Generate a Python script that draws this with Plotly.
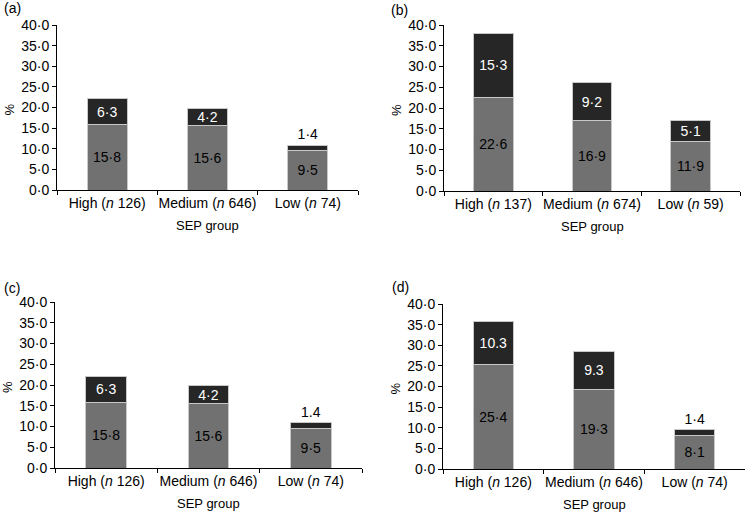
import plotly.graph_objects as go
from plotly.subplots import make_subplots

W, H = 754, 512

# data
groups_a = ["High (<i>n</i> 126)", "Medium (<i>n</i> 646)", "Low (<i>n</i> 74)"]
groups_b = ["High (<i>n</i> 137)", "Medium (<i>n</i> 674)", "Low (<i>n</i> 59)"]
groups_c = ["High (<i>n</i> 126)", "Medium (<i>n</i> 646)", "Low (<i>n</i> 74)"]
groups_d = ["High (<i>n</i> 126)", "Medium (<i>n</i> 646)", "Low (<i>n</i> 74)"]

lower_a = [15.8, 15.6, 9.5]
upper_a = [6.3, 4.2, 1.4]
lower_b = [22.6, 16.9, 11.9]
upper_b = [15.3, 9.2, 5.1]
lower_c = [15.8, 15.6, 9.5]
upper_c = [6.3, 4.2, 1.4]
lower_d = [25.4, 19.3, 8.1]
upper_d = [10.3, 9.3, 1.4]

# labels as printed (mixed decimal marks in the original)
lower_text_a = ["15·8", "15·6", "9·5"]
upper_text_a = ["6·3", "4·2", "1·4"]
lower_text_b = ["22·6", "16·9", "11·9"]
upper_text_b = ["15·3", "9·2", "5·1"]
lower_text_c = ["15·8", "15·6", "9·5"]
upper_text_c = ["6·3", "4·2", "1.4"]
lower_text_d = ["25·4", "19·3", "8·1"]
upper_text_d = ["10.3", "9.3", "1·4"]

y_ticks = [0, 5, 10, 15, 20, 25, 30, 35, 40]
y_ticktext = ["0·0", "5·0", "10·0", "15·0", "20·0", "25·0", "30·0", "35·0", "40·0"]

FONT = "Liberation Sans, Arial, sans-serif"
GREY = "#717171"
DARK = "#262626"


def px(x):
    return x / W


def py(y):
    return 1 - y / H


# panel boxes in pixels: left, right, top, bottom
boxes = [
    (57, 358, 25, 190),
    (444, 740, 25, 191),
    (55, 362, 302, 468),
    (443, 745, 304, 469),
]

fig = make_subplots(rows=2, cols=2)

panels = [
    (groups_a, lower_a, upper_a, lower_text_a, upper_text_a),
    (groups_b, lower_b, upper_b, lower_text_b, upper_text_b),
    (groups_c, lower_c, upper_c, lower_text_c, upper_text_c),
    (groups_d, lower_d, upper_d, lower_text_d, upper_text_d),
]

for i, (cats, low, up, lt, ut) in enumerate(panels):
    r, c = i // 2 + 1, i % 2 + 1
    pos = ["inside" if v >= 3 else "outside" for v in up]
    fig.add_trace(go.Bar(
        x=cats, y=low, text=lt, textposition="inside", insidetextanchor="middle",
        marker=dict(color=GREY, line=dict(color="#c8c8c8", width=1)),
        insidetextfont=dict(color="black", size=14, family=FONT),
        width=0.4, showlegend=False, cliponaxis=False, constraintext="none",
        hoverinfo="skip",
    ), row=r, col=c)
    fig.add_trace(go.Bar(
        x=cats, y=up, text=ut, textposition=pos, insidetextanchor="middle",
        marker=dict(color=DARK, line=dict(color="#c8c8c8", width=1)),
        insidetextfont=dict(color="white", size=14, family=FONT),
        outsidetextfont=dict(color="black", size=14, family=FONT),
        width=0.4, showlegend=False, cliponaxis=False, constraintext="none",
        hoverinfo="skip",
    ), row=r, col=c)

    x0, x1, y0, y1 = boxes[i]
    xa = "xaxis" if i == 0 else f"xaxis{i + 1}"
    ya = "yaxis" if i == 0 else f"yaxis{i + 1}"
    fig.layout[xa].update(
        domain=[px(x0), px(x1)], showline=True, linecolor="black", linewidth=1,
        ticks="outside", ticklen=4, tickcolor="black", tickson="boundaries",
        showgrid=False, tickangle=0, automargin=False,
        tickfont=dict(size=14, color="black", family=FONT),
    )
    fig.layout[ya].update(
        domain=[py(y1), py(y0)], range=[0, 40], showline=True, linecolor="black",
        linewidth=1, ticks="outside", ticklen=4, tickcolor="black", automargin=False,
        tickvals=y_ticks, ticktext=y_ticktext, showgrid=False, zeroline=False,
        tickfont=dict(size=14, color="black", family=FONT),
    )

    # axis titles
    fig.add_annotation(x=px((x0 + x1) / 2), y=py(y1 + 35), text="SEP group",
                       showarrow=False, xref="paper", yref="paper",
                       xanchor="center", yanchor="middle",
                       font=dict(size=13, color="black", family=FONT))
    fig.add_annotation(x=px(x0 - 48), y=py((y0 + y1) / 2 + 2), text="%",
                       textangle=-90, showarrow=False, xref="paper", yref="paper",
                       xanchor="center", yanchor="middle",
                       font=dict(size=13, color="black", family=FONT))

panel_tags = [("(a)", 12, 8), ("(b)", 399, 10), ("(c)", 12, 288), ("(d)", 400, 287)]
for tag, tx, ty in panel_tags:
    fig.add_annotation(x=px(tx), y=py(ty), text=tag, showarrow=False,
                       xref="paper", yref="paper", xanchor="center", yanchor="middle",
                       font=dict(size=14, color="black", family=FONT))

fig.update_layout(
    barmode="stack",
    width=W, height=H,
    margin=dict(l=0, r=0, t=0, b=0),
    paper_bgcolor="white", plot_bgcolor="white",
    uniformtext=dict(minsize=14, mode="show"),
    font=dict(family=FONT, color="black"),
)

# the page's default body margin would push the figure 8px in
fig.write_html("out.html", config={"displayModeBar": False},
               post_script="document.body.style.margin='0';")
